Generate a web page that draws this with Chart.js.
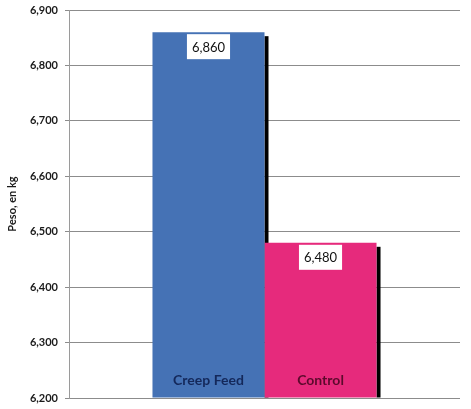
<!DOCTYPE html>
<html lang="es">
  <head>
    <meta charset="utf-8" />
    <title>Peso, en kg</title>
    <style>
      html, body { margin: 0; padding: 0; background: #ffffff; }
      #wrap { width: 471px; height: 409px; }
    </style>
  </head>
  <body>
    <div id="wrap"><canvas id="chart" width="471" height="409"></canvas></div>
    <script src="https://cdn.jsdelivr.net/npm/chart.js"></script>
    <script>
      const groups = ["Creep Feed", "Control"];
      const pesos = [6860, 6480];
      const barColors = ["#4572b5", "#e62a7c"];
      const nameColors = ["#14285a", "#5c0a2c"];
      const yMin = 6200;
      const yMax = 6900;

      const fmt = (v) => v.toLocaleString("en-US");

      // black drop shadow on the right side of each bar
      const shadowPlugin = {
        id: "shadow",
        beforeDatasetsDraw(chart) {
          const ctx = chart.ctx;
          ctx.save();
          ctx.fillStyle = "#000000";
          chart.data.datasets.forEach((ds, i) => {
            chart.getDatasetMeta(i).data.forEach((bar) => {
              const right = bar.x + bar.width / 2;
              ctx.fillRect(right, bar.y + 4, 4, bar.base - bar.y - 4);
            });
          });
          ctx.restore();
        },
      };

      // white value boxes at the top + group name at the bottom of each bar
      const labelPlugin = {
        id: "labels",
        afterDatasetsDraw(chart) {
          const ctx = chart.ctx;
          ctx.save();
          ctx.textAlign = "center";
          ctx.textBaseline = "middle";
          chart.data.datasets.forEach((ds, i) => {
            chart.getDatasetMeta(i).data.forEach((bar, j) => {
              const txt = fmt(ds.data[j]);
              ctx.font = "13px Lato";
              const w = ctx.measureText(txt).width + 10;
              const h = 25;
              const top = bar.y + 2;
              ctx.fillStyle = "#ffffff";
              ctx.fillRect(bar.x - w / 2, top, w, h);
              ctx.fillStyle = "#111111";
              ctx.fillText(txt, bar.x, top + h / 2 + 1);

              ctx.font = "bold 14px Lato";
              ctx.fillStyle = nameColors[i];
              ctx.fillText(ds.label, bar.x, bar.base - 17);
            });
          });
          ctx.restore();
        },
      };

      new Chart(document.getElementById("chart"), {
        type: "bar",
        data: {
          labels: [""],
          datasets: groups.map((g, i) => ({
            label: g,
            data: [pesos[i]],
            backgroundColor: barColors[i],
            base: yMin,
            borderWidth: 0,
            categoryPercentage: 0.573,
            barPercentage: 1,
          })),
        },
        options: {
          responsive: false,
          animation: false,
          layout: { padding: { top: 10, right: 11, bottom: 11, left: 0 } },
          plugins: {
            legend: { display: false },
            tooltip: { enabled: false },
          },
          scales: {
            x: { display: false },
            y: {
              min: yMin,
              max: yMax,
              afterFit(scale) {
                scale.width = 69;
                scale.paddingTop = 2;
                scale.paddingBottom = 2;
              },
              ticks: {
                stepSize: 100,
                padding: 7,
                color: "#1a1a1a",
                font: { family: "Lato", size: 11, weight: "bold" },
                callback: (v) => fmt(v),
              },
              grid: {
                color: "#8c8c8c",
                tickLength: 4,
                lineWidth: 1,
              },
              border: { color: "#9a9a9a", width: 1 },
              title: {
                display: true,
                text: "Peso, en kg",
                color: "#1a1a1a",
                padding: { top: 6, bottom: 0 },
                font: { family: "Lato", size: 11, weight: "bold" },
              },
            },
          },
        },
        plugins: [shadowPlugin, labelPlugin],
      });
    </script>
  </body>
</html>
